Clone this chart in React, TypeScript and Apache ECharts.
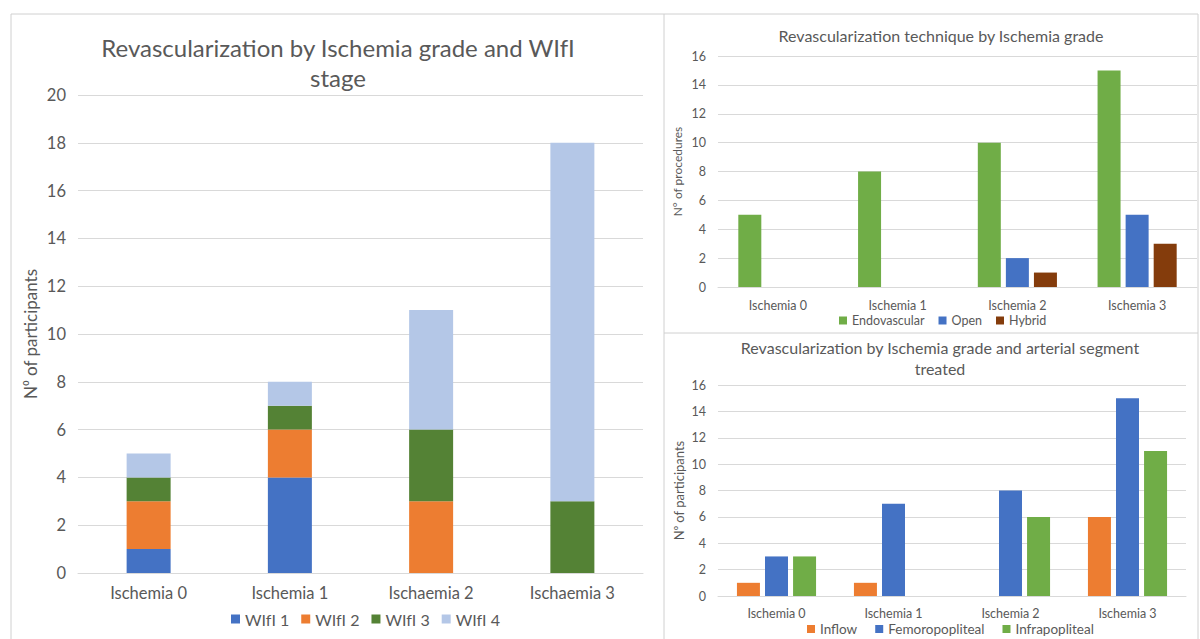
import React, { useEffect, useRef } from "react";
import * as echarts from "echarts";

// Shared categories
const wifiCategories = ["Ischemia 0", "Ischemia 1", "Ischaemia 2", "Ischaemia 3"];
const gradeCategories = ["Ischemia 0", "Ischemia 1", "Ischemia 2", "Ischemia 3"];

// Revascularization by Ischemia grade and WIfI stage (stacked)
const wifi1 = [1, 4, 0, 0];
const wifi2 = [2, 2, 3, 0];
const wifi3 = [1, 1, 3, 3];
const wifi4 = [1, 1, 5, 15];

// Revascularization technique by Ischemia grade
const endovascular = [5, 8, 10, 15];
const openSurgery = [0, 0, 2, 5];
const hybrid = [0, 0, 1, 3];

// Revascularization by Ischemia grade and arterial segment treated
const inflow = [1, 1, 0, 6];
const femoropopliteal = [3, 7, 8, 15];
const infrapopliteal = [3, 0, 6, 11];

const FONT = "Lato, 'Open Sans', 'DejaVu Sans', sans-serif";
const TEXT = "#595959";
const GRID_LINE = "#d9d9d9";
const BORDER = "#d0d0d0";

const BLUE = "#4472C4";
const ORANGE = "#ED7D31";
const DARK_GREEN = "#548235";
const LIGHT_BLUE = "#B4C7E7";
const GREEN = "#70AD47";
const BROWN = "#843C0C";

function valueAxis(gridIndex: number, max: number, name: string, fontSize: number, nameSize: number, nameGap: number) {
  return {
    type: "value",
    gridIndex,
    min: 0,
    max,
    interval: 2,
    name,
    nameLocation: "middle",
    nameGap,
    nameTextStyle: { color: TEXT, fontSize: nameSize, fontFamily: FONT },
    axisLine: { show: false },
    axisTick: { show: false },
    axisLabel: { color: TEXT, fontSize, fontFamily: FONT, margin: 12 },
    splitLine: { lineStyle: { color: GRID_LINE, width: 1 } },
  };
}

function categoryAxis(gridIndex: number, data: string[], fontSize: number, margin: number) {
  return {
    type: "category",
    gridIndex,
    data,
    axisLine: { lineStyle: { color: GRID_LINE } },
    axisTick: { show: false },
    axisLabel: { color: TEXT, fontSize, fontFamily: FONT, margin },
  };
}

export default function App() {
  const ref = useRef<HTMLDivElement>(null);

  useEffect(() => {
    if (!ref.current) return;
    const chart = echarts.init(ref.current, null, { renderer: "svg" });

    const stacked = (name: string, data: number[], color: string) => ({
      name,
      type: "bar",
      stack: "wifi",
      xAxisIndex: 0,
      yAxisIndex: 0,
      barWidth: 44,
      data,
      itemStyle: { color },
    });

    const grouped = (name: string, data: number[], color: string, axis: number) => ({
      name,
      type: "bar",
      xAxisIndex: axis,
      yAxisIndex: axis,
      barWidth: 23,
      barGap: "22%",
      data,
      itemStyle: { color },
    });

    chart.setOption({
      animation: false,
      backgroundColor: "#ffffff",
      title: [
        {
          text: "Revascularization by Ischemia grade and WIfI\nstage",
          left: 338,
          top: 32,
          padding: 0,
          textAlign: "center",
          textStyle: { color: TEXT, fontSize: 24, fontWeight: "normal", fontFamily: FONT, lineHeight: 30 },
        },
        {
          text: "Revascularization technique by Ischemia grade",
          left: 941,
          top: 27,
          padding: 0,
          textAlign: "center",
          textStyle: { color: TEXT, fontSize: 16, fontWeight: "normal", fontFamily: FONT },
        },
        {
          text: "Revascularization by Ischemia grade and arterial segment\ntreated",
          left: 940,
          top: 337,
          padding: 0,
          textAlign: "center",
          textStyle: { color: TEXT, fontSize: 16, fontWeight: "normal", fontFamily: FONT, lineHeight: 21 },
        },
      ],
      legend: [
        {
          data: ["WIfI 1", "WIfI 2", "WIfI 3", "WIfI 4"],
          left: 231,
          top: 611,
          padding: 0,
          itemWidth: 9,
          itemHeight: 9,
          itemGap: 12,
          icon: "rect",
          textStyle: { color: TEXT, fontSize: 16, fontFamily: FONT },
        },
        {
          data: ["Endovascular", "Open", "Hybrid"],
          left: 839,
          top: 314,
          padding: 0,
          itemWidth: 8,
          itemHeight: 8,
          itemGap: 14,
          icon: "rect",
          textStyle: { color: TEXT, fontSize: 12.5, fontFamily: FONT },
        },
        {
          data: ["Inflow", "Femoropopliteal", "Infrapopliteal"],
          left: 807,
          top: 622,
          padding: 0,
          itemWidth: 8,
          itemHeight: 8,
          itemGap: 18,
          icon: "rect",
          textStyle: { color: TEXT, fontSize: 13.5, fontFamily: FONT },
        },
      ],
      grid: [
        { left: 78, right: 557, top: 95, bottom: 66 },
        { left: 718, right: 3, top: 56, bottom: 352 },
        { left: 718, right: 14, top: 385, bottom: 43 },
      ],
      xAxis: [
        categoryAxis(0, wifiCategories, 16.5, 11),
        categoryAxis(1, gradeCategories, 12.5, 12),
        categoryAxis(2, gradeCategories, 12.5, 11),
      ],
      yAxis: [
        valueAxis(0, 20, "N\u2070 of participants", 16.5, 17, 39),
        valueAxis(1, 16, "N\u00B0 of procedures", 12.5, 12, 35),
        valueAxis(2, 16, "N\u2070 of participants", 12.5, 13, 33),
      ],
      series: [
        stacked("WIfI 1", wifi1, BLUE),
        stacked("WIfI 2", wifi2, ORANGE),
        stacked("WIfI 3", wifi3, DARK_GREEN),
        stacked("WIfI 4", wifi4, LIGHT_BLUE),
        grouped("Endovascular", endovascular, GREEN, 1),
        grouped("Open", openSurgery, BLUE, 1),
        grouped("Hybrid", hybrid, BROWN, 1),
        grouped("Inflow", inflow, ORANGE, 2),
        grouped("Femoropopliteal", femoropopliteal, BLUE, 2),
        grouped("Infrapopliteal", infrapopliteal, GREEN, 2),
      ],
      graphic: [
        {
          type: "rect",
          silent: true,
          shape: { x: 11, y: 14, width: 1187, height: 640 },
          style: { fill: "none", stroke: BORDER, lineWidth: 1 },
        },
        {
          type: "line",
          silent: true,
          shape: { x1: 664, y1: 14, x2: 664, y2: 639 },
          style: { stroke: BORDER, lineWidth: 1 },
        },
        {
          type: "line",
          silent: true,
          shape: { x1: 664, y1: 333, x2: 1198, y2: 333 },
          style: { stroke: BORDER, lineWidth: 1 },
        },
      ],
    });

    return () => chart.dispose();
  }, []);

  return (
    <div
      ref={ref}
      style={{ position: "absolute", left: 0, top: 0, width: 1200, height: 639, background: "#fff" }}
    />
  );
}
